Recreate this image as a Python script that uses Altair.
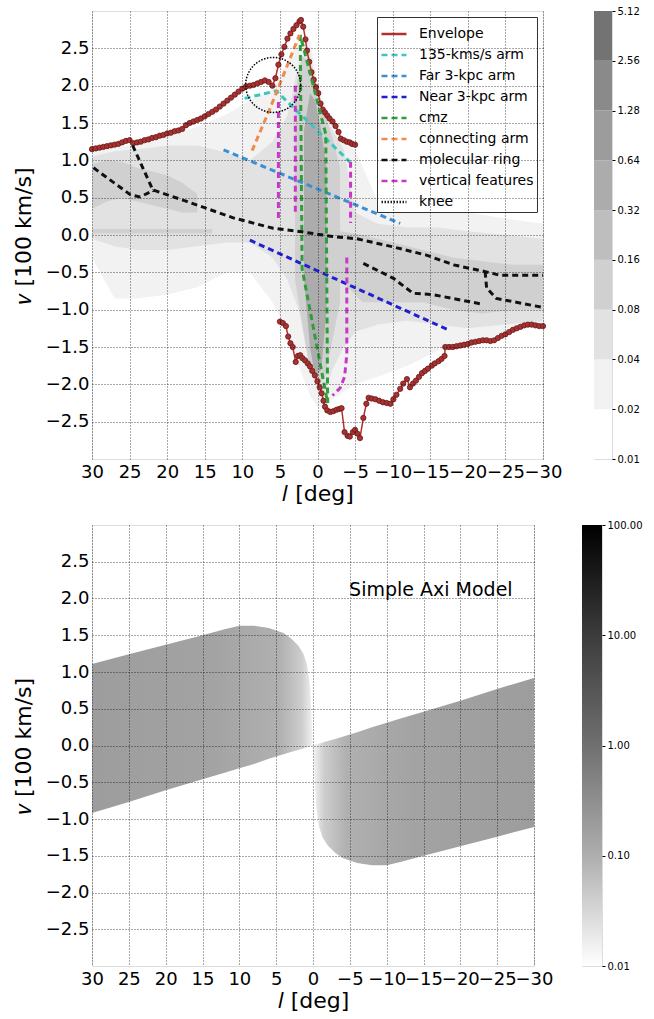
import altair as alt
import pandas as pd

FONT = "DejaVu Sans"

L_TICKS = [30, 25, 20, 15, 10, 5, 0, -5, -10, -15, -20, -25, -30]
V_TICKS = [-2.5, -2.0, -1.5, -1.0, -0.5, 0.0, 0.5, 1.0, 1.5, 2.0, 2.5]

# ---------------- observed envelope (upper / lower branch) ----------------
ENV_UP_L = [30, 29.5, 29, 28.5, 28, 27.5, 27, 26.5, 26, 25.5, 25, 24.5, 24, 23.5, 23, 22.5,
            22, 21.5, 21, 20.5, 20, 19.5, 19, 18.5, 18, 17.5, 17, 16.5, 16, 15.5, 15, 14.5,
            14, 13.5, 13, 12.5, 12, 11.5, 11, 10.5, 10, 9.5, 9, 8.5, 8, 7.5, 7, 6.5, 6, 5.6,
            5.2, 4.8, 4.4, 4.0, 3.6, 3.2, 2.8, 2.4, 2.2, 1.9, 1.6, 1.4, 1.1, 0.8, 0.5, 0.2,
            -0.1, -0.4, -0.7, -1.0, -1.3, -1.6, -2.0, -2.4, -2.8, -3.1, -3.5, -3.9, -4.3,
            -4.6, -5.0]
ENV_UP_V = [1.15, 1.16, 1.17, 1.18, 1.19, 1.20, 1.21, 1.22, 1.24, 1.26, 1.27, 1.23, 1.24,
            1.25, 1.27, 1.28, 1.30, 1.31, 1.33, 1.34, 1.36, 1.37, 1.39, 1.40, 1.42, 1.47,
            1.50, 1.52, 1.54, 1.56, 1.59, 1.62, 1.65, 1.68, 1.72, 1.76, 1.80, 1.84, 1.88,
            1.92, 1.96, 1.99, 2.00, 2.01, 2.03, 2.05, 2.07, 2.05, 2.00, 2.10, 2.28, 2.42,
            2.52, 2.63, 2.70, 2.76, 2.81, 2.86, 2.88, 2.79, 2.62, 2.47, 2.32, 2.18, 2.08,
            1.98, 1.90, 1.76, 1.68, 1.64, 1.60, 1.56, 1.52, 1.46, 1.38, 1.29, 1.27, 1.25,
            1.24, 1.22, 1.21]

ENV_DN_L = [5.0, 4.6, 4.2, 3.9, 3.6, 3.3, 2.9, 2.6, 2.3, 2.0, 1.65, 1.3, 1.0, 0.7, 0.35, 0.0,
            -0.3, -0.55, -0.8, -1.0, -1.3, -1.7, -2.1, -2.55, -2.9, -3.2, -3.6, -4.0, -4.3,
            -4.7, -5.0, -5.3, -5.65, -6.1, -6.5, -6.8, -7.2, -7.7, -8.2, -8.7, -9.2, -9.7,
            -10.1, -10.5, -11.0, -11.4, -11.9, -12.3, -12.7, -13.1, -13.5, -13.9, -14.3,
            -14.7, -15.2, -15.6, -16.1, -16.5, -16.9, -17.0, -17.5, -18.0, -18.5, -19.0,
            -19.5, -20.0, -20.5, -21.0, -21.5, -22.0, -22.5, -23.0, -23.5, -24.0, -24.5,
            -25.0, -25.5, -26.0, -26.5, -27.0, -27.5, -28.0, -28.5, -29.0, -29.5, -30.0]
ENV_DN_V = [-1.16, -1.18, -1.22, -1.36, -1.45, -1.50, -1.70, -1.62, -1.61, -1.65, -1.68,
            -1.72, -1.76, -1.82, -1.88, -1.96, -2.04, -2.12, -2.22, -2.30, -2.35, -2.37,
            -2.36, -2.34, -2.33, -2.32, -2.64, -2.69, -2.70, -2.64, -2.61, -2.66, -2.72,
            -2.45, -2.26, -2.18, -2.19, -2.20, -2.22, -2.24, -2.25, -2.26, -2.20, -2.14,
            -2.06, -1.99, -1.93, -2.04, -1.99, -1.95, -1.90, -1.85, -1.82, -1.79, -1.75,
            -1.72, -1.69, -1.66, -1.62, -1.50, -1.50, -1.50, -1.49, -1.48, -1.47, -1.46,
            -1.44, -1.43, -1.42, -1.41, -1.41, -1.42, -1.41, -1.38, -1.35, -1.33, -1.30,
            -1.27, -1.25, -1.23, -1.21, -1.20, -1.20, -1.21, -1.22, -1.22]

# ---------------- kinematic features ----------------
ARM135_L, ARM135_V = [9.7, 5.5, -4.3], [1.83, 1.93, 0.98]
FAR3_L, FAR3_V = [12.5, -11.0], [1.14, 0.155]
NEAR3_L, NEAR3_V = [9.0, -17.4], [-0.07, -1.27]
CMZ_L = [2.3, 2.05, -1.35, -1.1, 2.3]
CMZ_V = [2.68, -0.45, -2.25, 1.35, 2.68]
CONN_L, CONN_V = [8.7, 6.5, 4.5, 2.4], [1.13, 1.65, 2.15, 2.68]
RING = [
    ([29.8, 24.9, 23.6, 21.8], [0.90, 0.54, 0.51, 0.60]),
    ([24.6, 21.8], [1.20, 0.58]),
    ([21.8, 17.4, 11.2, 5.9, 1.9, -2.0, -5.2, -10.1, -14.5, -18.1, -22.3, -24.3, -30.0],
     [0.60, 0.45, 0.23, 0.09, 0.04, -0.02, -0.05, -0.16, -0.27, -0.40, -0.49, -0.54, -0.54]),
    ([-6.1, -10.1, -12.7, -15.4, -21.6], [-0.38, -0.58, -0.78, -0.80, -0.92]),
    ([-22.3, -22.5, -23.8, -30.0], [-0.49, -0.71, -0.85, -0.97]),
]
VERTICAL = [
    ([5.2, 5.2], [1.78, 0.18]),
    ([2.95, 2.95], [2.00, 0.27]),
    ([-4.4, -4.4], [0.98, 0.16]),
    ([-3.9, -3.9, -3.6, -3.0, -2.0], [-0.30, -1.60, -1.90, -2.05, -2.15]),
]
KNEE_L, KNEE_V = [5.9], [2.01]

FEATURES = ["Envelope", "135-kms/s arm", "Far 3-kpc arm", "Near 3-kpc arm", "cmz",
            "connecting arm", "molecular ring", "vertical features", "knee"]
FEATURE_COLORS = ["#b23030", "#3cc6bf", "#3a8fd6", "#2020d0", "#2f9e3a", "#f28a4c",
                  "#111111", "#c838c8", "#222222"]
FEATURE_DASHES = [[1, 0], [6, 4], [6, 4], [6, 4], [6, 4], [6, 4], [6, 4], [6, 4], [1.5, 1.5]]

# ---------------- CO emission levels (l-v background) ----------------
BG_L = [30, 27, 24, 20, 16, 12, 9, 6, 4, 2.5, 1, 0, -1, -2, -3.5, -5, -8, -12, -16, -20, -25, -30]
FAINT_HI = [1.12, 1.17, 1.22, 1.32, 1.45, 1.62, 1.80, 1.95, 2.30, 2.65, 2.60, 2.05, 1.72, 1.52,
            1.30, 1.15, 0.45, 0.30, 0.30, 0.30, 0.22, 0.15]
FAINT_LO = [-0.30, -0.85, -0.85, -0.80, -0.70, -0.50, -0.50, -0.90, -1.30, -1.75, -2.15, -2.30,
            -2.30, -2.20, -2.10, -2.00, -1.90, -1.75, -1.55, -1.45, -1.32, -1.20]
LIGHT_HI = [1.05, 1.12, 1.15, 1.20, 1.20, 1.10, 1.00, 1.25, 1.60, 2.30, 2.45, 1.90, 1.60, 1.40,
            1.15, 0.30, 0.15, 0.10, 0.10, 0.05, 0.00, -0.05]
LIGHT_LO = [-0.05, -0.15, -0.20, -0.20, -0.15, -0.10, -0.10, -0.30, -0.60, -1.00, -1.80, -2.10,
            -2.10, -1.80, -1.50, -1.30, -1.20, -1.15, -1.20, -1.25, -1.20, -1.15]
RING_BG_L = [30, 28, 26, 24, 22, 20, 18, 16]
RING_BG_HI = [0.95, 1.00, 0.98, 0.90, 0.85, 0.80, 0.70, 0.55]
RING_BG_LO = [0.35, 0.45, 0.50, 0.45, 0.40, 0.35, 0.30, 0.30]
CMZ_BG_L = [3, 2, 1, 0, -1, -2, -3]
CMZ_BG_HI = [1.90, 2.40, 2.30, 1.90, 1.60, 1.30, 0.90]
CMZ_BG_LO = [-0.60, -1.20, -1.80, -2.00, -1.90, -1.40, -0.90]
SOUTH_BG_L = [-3, -6, -10, -14, -18, -22, -26, -30]
SOUTH_BG_HI = [0.05, 0.00, -0.10, -0.20, -0.30, -0.35, -0.40, -0.40]
SOUTH_BG_LO = [-0.60, -0.90, -0.90, -0.90, -1.00, -1.05, -1.00, -1.00]
LOCAL_BG_L, LOCAL_BG_HI, LOCAL_BG_LO = [30, 14], [0.08, 0.08], [0.02, 0.02]
CORE_BG_L = [1.8, 1.0, 0.3, -0.5, -1.2]
CORE_BG_HI = [1.40, 1.90, 1.80, 1.40, 0.90]
CORE_BG_LO = [-0.60, -1.50, -1.90, -1.80, -1.00]

CB1_LEVELS = [0.01, 0.02, 0.04, 0.08, 0.16, 0.32, 0.64, 1.28, 2.56, 5.12]
CB1_GRAYS = ["#ffffff", "#f2f2f2", "#e2e2e2", "#d0d0d0", "#bebebe", "#acacac", "#9c9c9c",
             "#8a8a8a", "#737373"]

# ---------------- simple axisymmetric model ----------------
AXI_L = [30, 25, 20, 15, 12, 10, 8, 6, 4, 3, 2, 1.3, 0.8, 0.4, 0.2, 0.05]
AXI_TOP = [1.11, 1.24, 1.37, 1.50, 1.58, 1.63, 1.63, 1.60, 1.53, 1.46, 1.36, 1.25, 1.10, 0.80,
           0.40, 0.05]
AXI_BOT = [-0.92, -0.77, -0.61, -0.46, -0.37, -0.31, -0.25, -0.18, -0.12, -0.09, -0.06, -0.04,
           -0.025, -0.012, -0.006, -0.002]
CB2_TICKS = [0.01, 0.1, 1, 10, 100]


def axis_l():
    return alt.Axis(values=L_TICKS, format="d", labelFlush=False, labelOverlap=False,
                    labelFont=FONT, labelFontSize=18, labelColor="black", labelPadding=4,
                    title="𝑙 [deg]", titleFont=FONT, titleFontSize=22, titleFontWeight="normal",
                    titleColor="black", titlePadding=2, grid=True, gridColor="black",
                    gridDash=[1, 2], gridWidth=0.8, gridOpacity=0.85, domain=False,
                    ticks=False, zindex=1)


def axis_v():
    return alt.Axis(values=V_TICKS, format=".1f", labelFont=FONT, labelFontSize=18,
                    labelColor="black", labelPadding=3, title="𝑣 [100 km/s]",
                    titleFont=FONT, titleFontSize=22, titleFontWeight="normal",
                    titleColor="black", titlePadding=10, grid=True, gridColor="black",
                    gridDash=[1, 2], gridWidth=0.8, gridOpacity=0.85, domain=False,
                    ticks=False, zindex=1)


def xl(field="l"):
    return alt.X(f"{field}:Q", scale=alt.Scale(domain=[-30, 30], reverse=True, nice=False,
                                               zero=False), axis=axis_l())


def yv(field="v"):
    return alt.Y(f"{field}:Q", scale=alt.Scale(domain=[-3, 3], nice=False, zero=False),
                 axis=axis_v())


def band(ls, his, los, color):
    df = pd.DataFrame({"l": ls, "hi": his, "lo": los})
    return alt.Chart(df).mark_area(color=color, opacity=1).encode(
        x=xl(), y=yv("hi"), y2=alt.Y2("lo:Q"))


# --- top panel: observed l-v diagram ---
bg_layers = [
    band(BG_L, FAINT_HI, FAINT_LO, CB1_GRAYS[1]),
    band(BG_L, LIGHT_HI, LIGHT_LO, CB1_GRAYS[2]),
    band(RING_BG_L, RING_BG_HI, RING_BG_LO, CB1_GRAYS[3]),
    band(CMZ_BG_L, CMZ_BG_HI, CMZ_BG_LO, CB1_GRAYS[3]),
    band(SOUTH_BG_L, SOUTH_BG_HI, SOUTH_BG_LO, CB1_GRAYS[3]),
    band(LOCAL_BG_L, LOCAL_BG_HI, LOCAL_BG_LO, CB1_GRAYS[3]),
    band(CORE_BG_L, CORE_BG_HI, CORE_BG_LO, CB1_GRAYS[5]),
]

env_rows = []
for seg, (ls, vs) in enumerate([(ENV_UP_L, ENV_UP_V), (ENV_DN_L, ENV_DN_V)]):
    for i, (l, v) in enumerate(zip(ls, vs)):
        env_rows.append({"seg": seg, "i": i, "l": l, "v": v})
env_df = pd.DataFrame(env_rows)

env_line = alt.Chart(env_df).mark_line(color=FEATURE_COLORS[0], strokeWidth=1.5).encode(
    x=xl(), y=yv(), detail="seg:N", order="i:Q")
env_pts = alt.Chart(env_df).mark_circle(size=28, color="#a83232", stroke="#6a1a1a",
                                        strokeWidth=0.8, opacity=1).encode(x=xl(), y=yv())

feat_rows = []


def add_path(feature, seg, ls, vs):
    for i, (l, v) in enumerate(zip(ls, vs)):
        feat_rows.append({"feature": feature, "seg": seg, "i": i, "l": l, "v": v})


add_path("135-kms/s arm", "a135", ARM135_L, ARM135_V)
add_path("Far 3-kpc arm", "far3", FAR3_L, FAR3_V)
add_path("Near 3-kpc arm", "near3", NEAR3_L, NEAR3_V)
add_path("cmz", "cmz", CMZ_L, CMZ_V)
add_path("connecting arm", "conn", CONN_L, CONN_V)
for k, (ls, vs) in enumerate(RING):
    add_path("molecular ring", f"ring{k}", ls, vs)
for k, (ls, vs) in enumerate(VERTICAL):
    add_path("vertical features", f"vert{k}", ls, vs)
feat_df = pd.DataFrame(feat_rows)

legend = alt.Legend(title=None, orient="top-right", offset=6, fillColor="white",
                    strokeColor="#333", padding=3, labelFont=FONT, labelFontSize=14,
                    labelColor="black", labelLimit=300, labelOffset=11, symbolType="stroke",
                    symbolSize=625, symbolStrokeWidth=2.5, rowPadding=0)

feat_lines = alt.Chart(feat_df).mark_line(strokeWidth=3).encode(
    x=xl(), y=yv(),
    color=alt.Color("feature:N", scale=alt.Scale(domain=FEATURES, range=FEATURE_COLORS),
                    legend=legend),
    strokeDash=alt.StrokeDash("feature:N",
                              scale=alt.Scale(domain=FEATURES, range=FEATURE_DASHES),
                              legend=legend),
    detail="seg:N", order="i:Q")

knee = alt.Chart(pd.DataFrame({"l": KNEE_L, "v": KNEE_V})).mark_point(
    shape="circle", size=3020, filled=False, stroke="black", strokeWidth=1.5,
    strokeDash=[1.5, 1.5], opacity=1).encode(x=xl(), y=yv())

top = alt.layer(*bg_layers, env_line, env_pts, feat_lines, knee).properties(
    width=451, height=448)

cb1_df = pd.DataFrame({"lo": CB1_LEVELS[:-1], "hi": CB1_LEVELS[1:], "gray": CB1_GRAYS})
top_cb = alt.Chart(cb1_df).mark_rect().encode(
    y=alt.Y("lo:Q", scale=alt.Scale(type="log", domain=[CB1_LEVELS[0], CB1_LEVELS[-1]],
                                    nice=False),
            axis=alt.Axis(orient="right", values=CB1_LEVELS, format=".2f", labelFont=FONT,
                          labelFontSize=10, labelColor="black", labelPadding=2, ticks=True,
                          tickSize=3, tickColor="black", domain=False, grid=False,
                          title=None)),
    y2="hi:Q",
    color=alt.Color("gray:N", scale=None)).properties(width=18, height=448)

# --- bottom panel: simple axisymmetric model ---
pos_df = pd.DataFrame({"l": AXI_L, "hi": AXI_TOP, "lo": AXI_BOT})
neg_df = pd.DataFrame({"l": [-x for x in AXI_L], "hi": [-x for x in AXI_BOT],
                       "lo": [-x for x in AXI_TOP]})

pos_fill = alt.Gradient(gradient="linear", x1=0, x2=1, y1=0, y2=0, stops=[
    alt.GradientStop(color="#9d9d9d", offset=0),
    alt.GradientStop(color="#a3a3a3", offset=0.55),
    alt.GradientStop(color="#b0b0b0", offset=0.85),
    alt.GradientStop(color="#cdcdcd", offset=0.95),
    alt.GradientStop(color="#f2f2f2", offset=1)])
neg_fill = alt.Gradient(gradient="linear", x1=0, x2=1, y1=0, y2=0, stops=[
    alt.GradientStop(color="#f2f2f2", offset=0),
    alt.GradientStop(color="#cdcdcd", offset=0.05),
    alt.GradientStop(color="#b0b0b0", offset=0.15),
    alt.GradientStop(color="#a3a3a3", offset=0.45),
    alt.GradientStop(color="#9d9d9d", offset=1)])

axi_pos = alt.Chart(pos_df).mark_area(color=pos_fill).encode(
    x=xl(), y=yv("hi"), y2=alt.Y2("lo:Q"))
axi_neg = alt.Chart(neg_df).mark_area(color=neg_fill).encode(
    x=xl(), y=yv("hi"), y2=alt.Y2("lo:Q"))
model_label = alt.Chart(pd.DataFrame({"l": [-4.9], "v": [2.12],
                                      "t": ["Simple Axi Model"]})).mark_text(
    align="left", baseline="middle", font=FONT, fontSize=19, color="black").encode(
    x=xl(), y=yv(), text="t:N")

bottom = alt.layer(axi_pos, axi_neg, model_label).properties(width=442, height=441)

cb2_df = pd.DataFrame({"lo": [CB2_TICKS[0]], "hi": [CB2_TICKS[-1]]})
cb2_fill = alt.Gradient(gradient="linear", x1=0, x2=0, y1=0, y2=1, stops=[
    alt.GradientStop(color="#000000", offset=0),
    alt.GradientStop(color="#3c3c3c", offset=0.25),
    alt.GradientStop(color="#707070", offset=0.5),
    alt.GradientStop(color="#aeaeae", offset=0.75),
    alt.GradientStop(color="#ffffff", offset=1)])
bot_cb = alt.Chart(cb2_df).mark_rect(color=cb2_fill).encode(
    y=alt.Y("lo:Q", scale=alt.Scale(type="log", domain=[CB2_TICKS[0], CB2_TICKS[-1]],
                                    nice=False),
            axis=alt.Axis(orient="right", values=CB2_TICKS, format=".2f", labelFont=FONT,
                          labelFontSize=10, labelColor="black", labelPadding=2, ticks=True,
                          tickSize=3, tickColor="black", domain=False, grid=False,
                          title=None)),
    y2="hi:Q").properties(width=20, height=441)

INDEP_SCALES = dict(x="independent", y="independent", color="independent",
                    strokeDash="independent")
INDEP_LEGENDS = dict(color="independent", strokeDash="independent")

row1 = alt.hconcat(top, top_cb, spacing=51, bounds="flush").resolve_scale(
    **INDEP_SCALES).resolve_legend(**INDEP_LEGENDS)
row2 = alt.hconcat(bottom, bot_cb, spacing=48, bounds="flush").resolve_scale(
    **INDEP_SCALES).resolve_legend(**INDEP_LEGENDS)

chart = alt.vconcat(row1, row2, spacing=14).resolve_scale(
    **INDEP_SCALES).resolve_legend(**INDEP_LEGENDS).properties(
    padding={"left": 11, "top": 5, "right": 5, "bottom": 5},
    background="white").configure_view(stroke="#333", strokeWidth=1.5).configure(font=FONT)

chart.save("out.html", embed_options={"renderer": "svg", "actions": False})
